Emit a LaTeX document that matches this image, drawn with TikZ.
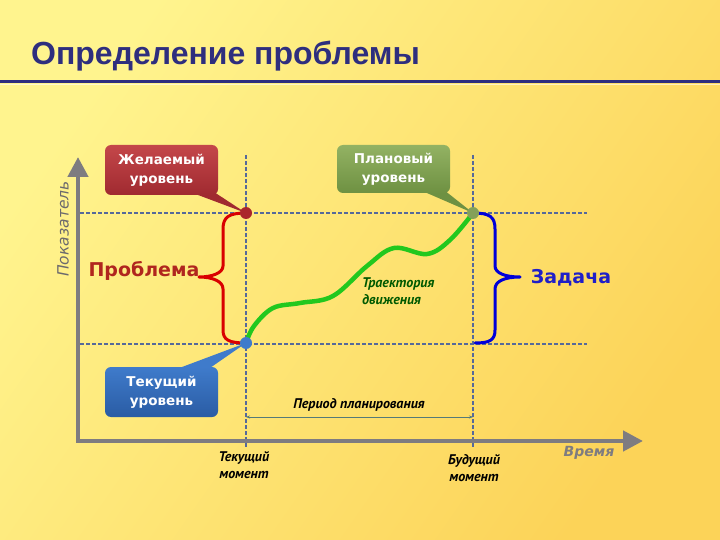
\documentclass[tikz,border=0pt]{standalone}
\usepackage{fontspec}
\setmainfont{DejaVu Sans}
\newfontfamily\titlefont{Liberation Sans}
\newfontfamily\ptfont{PT Sans}
\usetikzlibrary{arrows.meta,calc}
\definecolor{bgA}{HTML}{FFF48E}
\definecolor{bgB}{HTML}{FCD358}
\definecolor{titleblue}{HTML}{2E2E7E}
\definecolor{axisgray}{HTML}{7E7C80}
\definecolor{dashblue}{HTML}{56699A}
\definecolor{redA}{HTML}{C4474A}
\definecolor{redB}{HTML}{A02A30}
\definecolor{grnA}{HTML}{93B263}
\definecolor{grnB}{HTML}{6E9142}
\definecolor{bluA}{HTML}{3F7BCB}
\definecolor{bluB}{HTML}{2A5CA4}
\definecolor{traj}{HTML}{22C81E}
\definecolor{probred}{HTML}{B0261E}
\definecolor{taskblue}{HTML}{1F1FC8}
\definecolor{perline}{HTML}{557A78}
\tikzset{
  axisline/.style={axisgray, line width=4.5pt, line join=miter,
    {Triangle[width=20pt,length=20pt]}-{Triangle[width=20pt,length=20pt]}},
  gridline/.style={dashblue, line width=2pt, dash pattern=on 4pt off 2pt},
  dotnode/.style={circle, inner sep=0pt, minimum size=12pt},
  callout/.style={rounded corners=6pt, minimum width=113pt, minimum height=50pt,
    align=center, text=white, inner sep=2pt,
    font=\bfseries\fontsize{13.5}{19}\selectfont},
  bracestyle/.style={line width=3pt, line cap=round, line join=round},
  itlabel/.style={font=\ptfont\bfseries\itshape\fontsize{14}{17}\selectfont, align=center, inner sep=0pt}
}
\begin{document}
\begin{tikzpicture}[x=1pt,y=-1pt]
\useasboundingbox (0,0) rectangle (720,540);
\shade[top color=bgA, bottom color=bgB, shading angle=55] (0,0) rectangle (720,540);

% title
\node[anchor=base west, inner sep=0pt, text=titleblue,
  font=\titlefont\bfseries\fontsize{32}{36}\selectfont] (title) at (31,65) {Определение проблемы};
\draw[titleblue, line width=3pt] (0,82) -- (720,82);
\draw[white, opacity=0.6, line width=1pt] (0,85) -- (720,85);

% grid lines
\draw[gridline] (80,213) -- (587,213);
\draw[gridline] (80,344) -- (587,344);
\draw[gridline] (246,155) -- (246,447);
\draw[gridline] (473,155) -- (473,447);

% axes
\coordinate (ytop) at (78,157);
\coordinate (org) at (78,441);
\coordinate (xend) at (643,441);
\draw[axisline] (ytop) -- (org) -- (xend);

% axis labels
\node[rotate=90, text=axisgray!85!black, font=\itshape\fontsize{15.5}{17}\selectfont, inner sep=0pt] (ylab) at (63,229) {Показатель};
\node[text=axisgray, font=\bfseries\itshape\fontsize{14}{16}\selectfont, inner sep=0pt] (xlab) at (589,453) {Время};

% dots coordinates
\coordinate (pR) at (246,213);
\coordinate (pG) at (473,213);
\coordinate (pB) at (246,343);

% braces
\draw[bracestyle, red!85!black] (pR) .. controls (229,213) and (223,217) .. (223,229)
  -- (223,266) .. controls (223,273) and (212,277) .. (199,277)
  .. controls (212,277) and (223,281) .. (223,289)
  -- (223,330) .. controls (223,340) and (229,343) .. (pB);
\draw[bracestyle, blue!85!black] (pG) .. controls (490,213) and (495,217) .. (495,229)
  -- (495,266) .. controls (495,273) and (505,277) .. (520,277)
  .. controls (505,277) and (495,281) .. (495,289)
  -- (495,330) .. controls (495,340) and (490,343) .. (475,343);

% trajectory
\draw[traj, line width=4.5pt, line cap=round] plot[smooth, tension=0.6] coordinates
  {(246,343) (254,326) (273,308) (300,303) (333,296) (367,266) (394,248) (427,254) (450,240) (473,213)};

% callouts
\fill[redB] ($(162,195)+(28,-3)$) -- (pR) -- ($(162,195)+(52,-3)$) -- cycle;
\node[callout, top color=redA, bottom color=redB] (cDes) at (161.5,170) {Желаемый\\уровень};
\fill[grnB] ($(394,193)+(26,-3)$) -- (pG) -- ($(394,193)+(50,-3)$) -- cycle;
\node[callout, top color=grnA, bottom color=grnB, minimum height=48pt] (cPlan) at (393.5,169) {Плановый\\уровень};
\fill[bluA] ($(162,367)+(12,3)$) -- (pB) -- ($(162,367)+(45,3)$) -- cycle;
\node[callout, top color=bluA, bottom color=bluB] (cCur) at (161.5,392) {Текущий\\уровень};

% dots
\node[dotnode, fill=redB!90!red] (dR) at (pR) {};
\node[dotnode, fill=grnA!90!black] (dG) at (pG) {};
\node[dotnode, fill=bluA] (dB) at (pB) {};

% brace labels
\node[text=probred, font=\bfseries\fontsize{19}{22}\selectfont, inner sep=0pt] (prob) at (144,271) {Проблема};
\node[text=taskblue, font=\bfseries\fontsize{19}{22}\selectfont, inner sep=0pt] (task) at (571,278) {Задача};

% trajectory label
\node[itlabel, anchor=west, align=left, text=green!35!black] (trl) at (362,291) {Траектория\\движения};

% planning period
\coordinate (perL) at (246,417);
\coordinate (perR) at (473,417);
\draw[{Stealth[length=4pt,width=3pt]}-{Stealth[length=4pt,width=3pt]}, line width=0.8pt, color=perline] (perL) -- (perR);
\node[itlabel] (per) at (359,405) {Период планирования};

% time labels
\node[itlabel] (tnow) at (244,465) {Текущий\\момент};
\node[itlabel] (tfut) at (474,468) {Будущий\\момент};
\end{tikzpicture}
\end{document}
